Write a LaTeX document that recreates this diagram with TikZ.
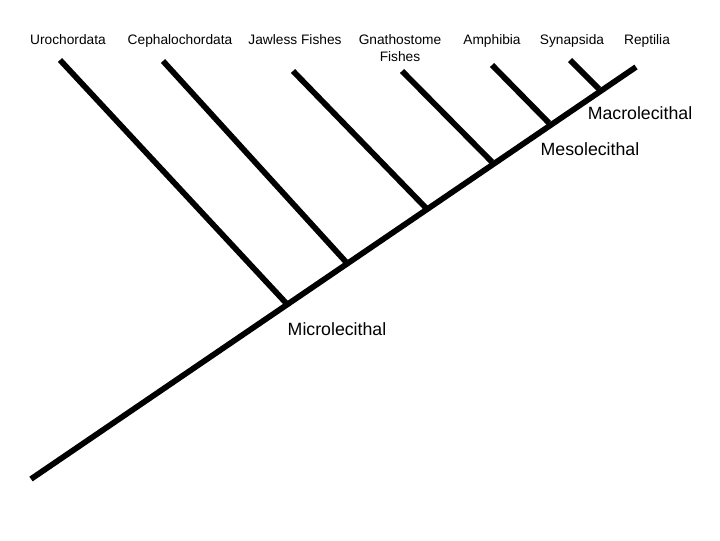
\documentclass[tikz,border=0pt]{standalone}
\usepackage{fontspec}
\setmainfont{Liberation Sans}
\begin{document}
\begin{tikzpicture}[x=0.75pt,y=-0.75pt,
  trunk/.style={line width=4.3pt},
  taxon/.style={font=\fontsize{10.3pt}{12.4pt}\selectfont, align=center, inner sep=0pt, anchor=base},
  grade/.style={font=\fontsize{13.3pt}{16pt}\selectfont, inner sep=0pt, anchor=base}]
\useasboundingbox (0,0) rectangle (720,540);
% trunk and junctions
\coordinate (root) at (31,479);
\coordinate (j1) at (286,303);
\coordinate (j2) at (346,262);
\coordinate (j3) at (426,208);
\coordinate (j4) at (492,162);
\coordinate (j5) at (549,123);
\coordinate (j6) at (599,89);
\coordinate (tip) at (636,67);
% branch tips
\coordinate (t1) at (60,60);
\coordinate (t2) at (163,61);
\coordinate (t3) at (293,71);
\coordinate (t4) at (402,71);
\coordinate (t5) at (492,65);
\coordinate (t6) at (570,60);
\draw[trunk] (root) -- (tip);
\foreach \i in {1,...,6} \draw[trunk] (t\i) -- (j\i);
% labels
\node[taxon] (uro) at (68,44) {Urochordata};
\node[taxon] (cep) at (180,44) {Cephalochordata};
\node[taxon] (jaw) at (295,44) {Jawless Fishes};
\node[taxon] (gna) at (400,61) {Gnathostome\\Fishes};
\node[taxon] (amp) at (492,44) {Amphibia};
\node[taxon] (syn) at (572,44) {Synapsida};
\node[taxon] (rep) at (647,44) {Reptilia};
\node[grade] (mac) at (640,119) {Macrolecithal};
\node[grade] (mes) at (590,155) {Mesolecithal};
\node[grade] (mic) at (337,335) {Microlecithal};
\end{tikzpicture}
\end{document}
